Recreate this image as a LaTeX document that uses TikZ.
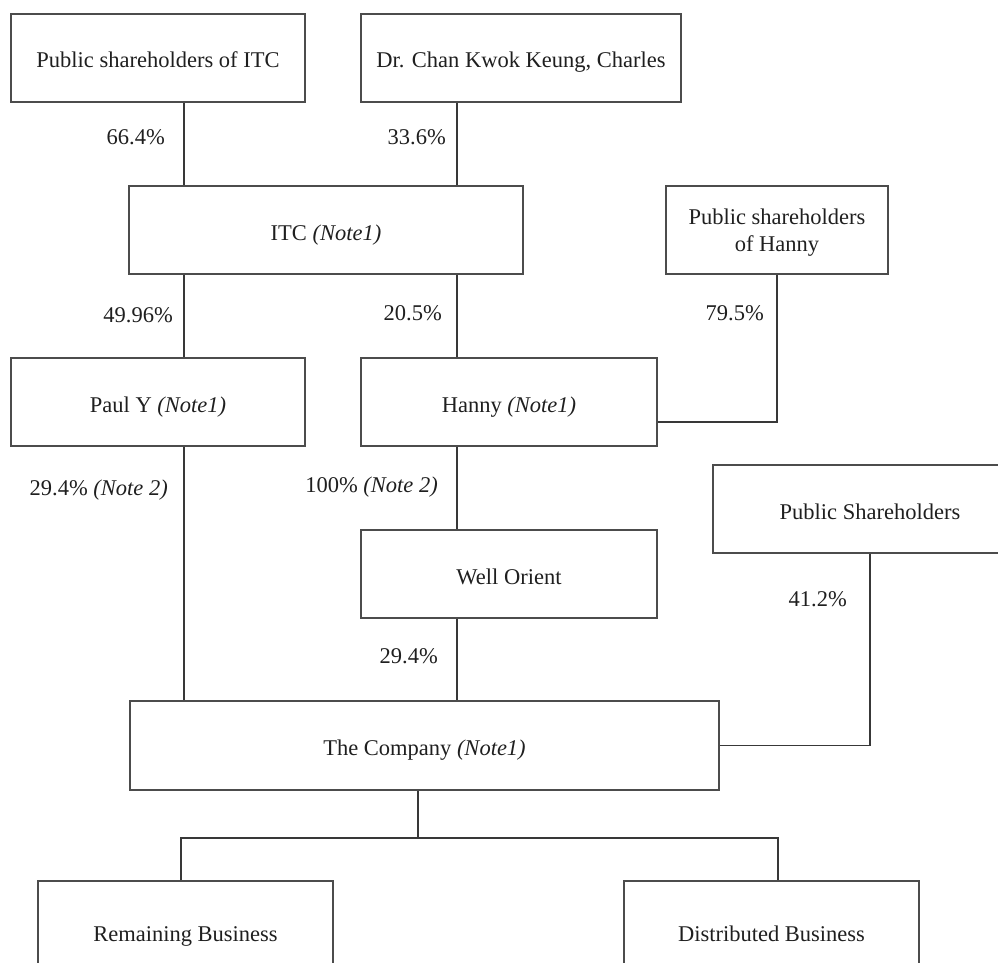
\documentclass[tikz,border=0pt]{standalone}
\usepackage{fontspec}
\setmainfont{Liberation Serif}
\begin{document}
\begin{tikzpicture}[x=1pt,y=-1pt,
  every node/.style={font=\fontsize{22.5}{27}\selectfont, text=black!88},
  box/.style={draw=black!70, line width=1.2pt, inner sep=0pt, align=center, rectangle, text height=24pt, text depth=4pt},
  boxplain/.style={draw=black!70, line width=1.2pt, inner sep=0pt, rectangle},
  conn/.style={draw=black!78, line width=1.2pt},
  pct/.style={anchor=east, inner sep=0pt}]
\useasboundingbox (0,0) rectangle (998,963);
\clip (0,0) rectangle (998,963);
% boxes
\node[box, minimum width=294pt, minimum height=88pt] (pubitc) at (158,58) {Public shareholders of ITC};
\node[box, minimum width=320pt, minimum height=88pt] (chan) at (521,58) {Dr. Chan Kwok Keung, Charles};
\node[box, minimum width=394pt, minimum height=88pt] (itc) at (326,230) {ITC \textit{(Note1)}};
\node[boxplain, minimum width=222pt, minimum height=88pt] (pubhanny) at (777,230) {};
\node[align=center, inner sep=0pt] (pubhannytext) at (777,233) {Public shareholders\\of Hanny};
\node[box, minimum width=294pt, minimum height=88pt] (pauly) at (158,402) {Paul Y \textit{(Note1)}};
\node[box, minimum width=296pt, minimum height=88pt] (hanny) at (509,402) {Hanny \textit{(Note1)}};
\node[box, minimum width=314pt, minimum height=88pt] (pubsh) at (870,509) {Public Shareholders};
\node[box, minimum width=296pt, minimum height=88pt] (well) at (509,574) {Well Orient};
\node[box, minimum width=589pt, minimum height=89pt] (company) at (424.5,745.5) {The Company \textit{(Note1)}};
\node[box, minimum width=295pt, minimum height=100pt] (remain) at (185.5,931) {Remaining Business};
\node[box, minimum width=295pt, minimum height=100pt] (distr) at (771.5,931) {Distributed Business};
% guide coordinates
\coordinate (xa) at (184,0);
\coordinate (xb) at (457,0);
\coordinate (xc) at (418,0);
\coordinate (xl) at (181,0);
\coordinate (xr) at (778,0);
\coordinate (yh) at (0,422);
\coordinate (yb) at (0,838);
% connectors
\draw[conn] (xa |- pubitc.south) -- (xa |- itc.north);
\draw[conn] (xb |- chan.south) -- (xb |- itc.north);
\draw[conn] (xa |- itc.south) -- (xa |- pauly.north);
\draw[conn] (xb |- itc.south) -- (xb |- hanny.north);
\draw[conn] (pubhanny.south) -- (pubhanny.south |- yh) -- (hanny.east |- yh);
\draw[conn] (xa |- pauly.south) -- (xa |- company.north);
\draw[conn] (xb |- hanny.south) -- (xb |- well.north);
\draw[conn] (xb |- well.south) -- (xb |- company.north);
\draw[conn] (pubsh.south) |- (company.east);
\draw[conn] (xc |- company.south) -- (xc |- yb);
\draw[conn] (xl |- remain.north) -- (xl |- yb) -- (xr |- yb) -- (xr |- distr.north);
% percentage labels
\node[pct] (l1) at (165,137) {66.4\%};
\node[pct] (l2) at (446,137) {33.6\%};
\node[pct] (l3) at (173,315) {49.96\%};
\node[pct] (l4) at (442,313) {20.5\%};
\node[pct] (l5) at (764,313) {79.5\%};
\node[pct] (l6) at (168,490) {29.4\% \textit{(Note 2)}};
\node[pct] (l7) at (438,487) {100\% \textit{(Note 2)}};
\node[pct] (l8) at (438,656) {29.4\%};
\node[pct] (l9) at (847,599) {41.2\%};
\end{tikzpicture}
\end{document}
